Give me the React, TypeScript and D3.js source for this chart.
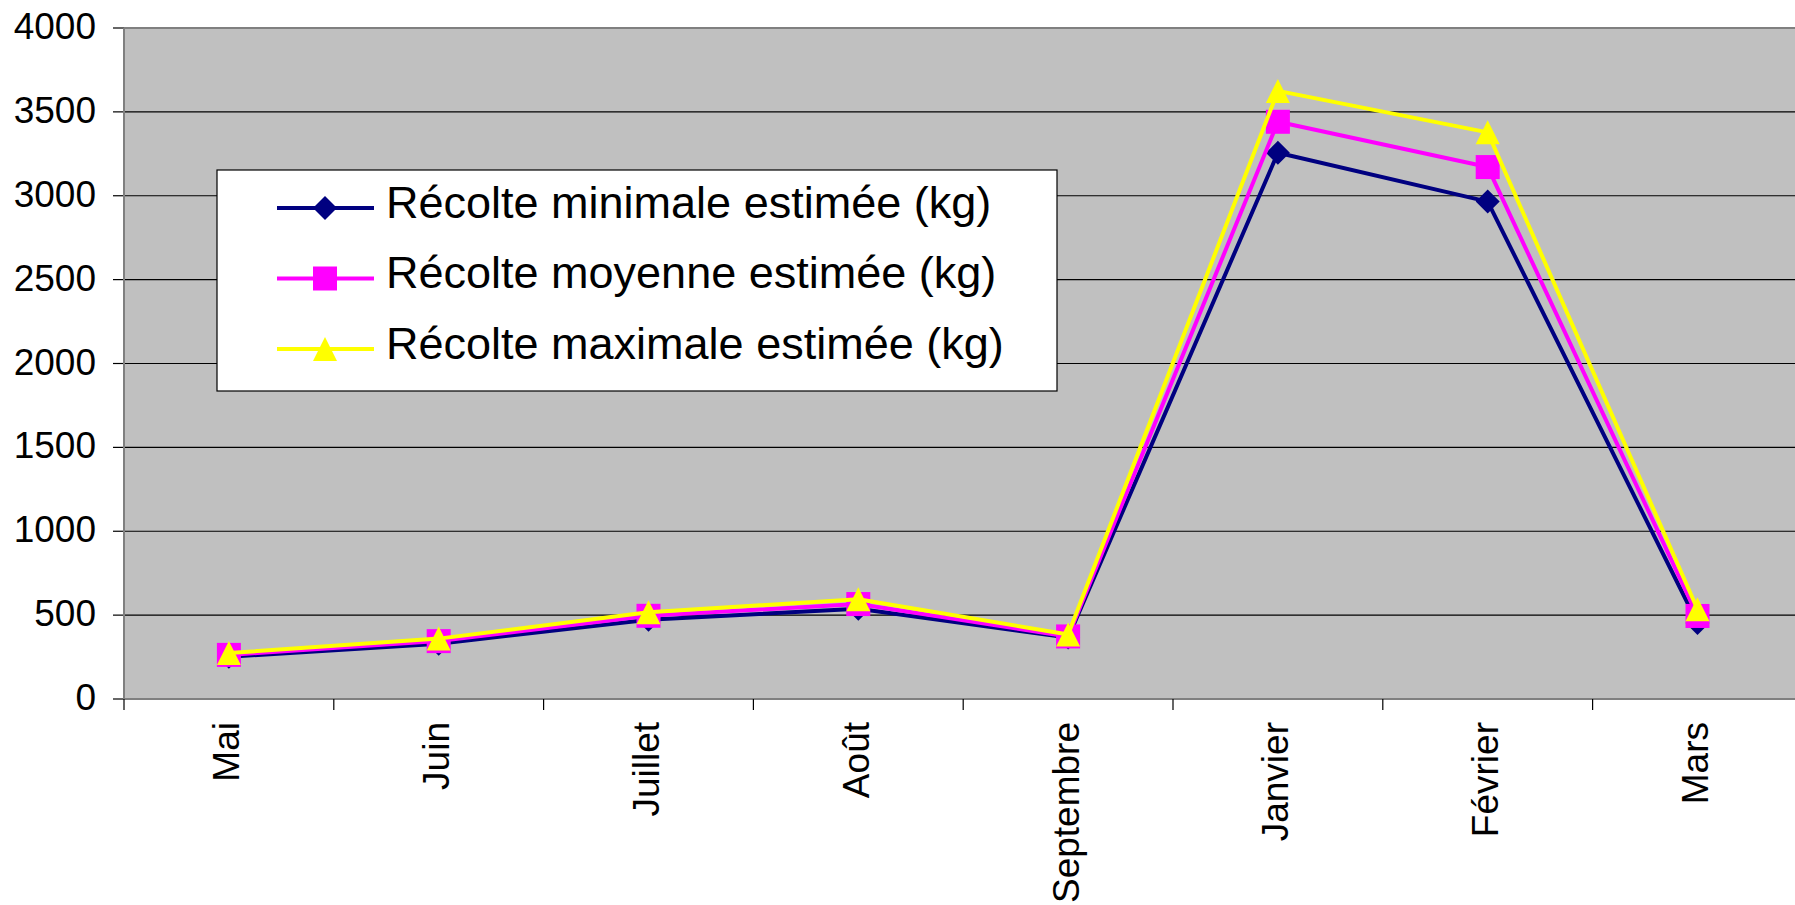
import React from 'react';
import * as d3 from 'd3';

const months = ['Mai', 'Juin', 'Juillet', 'Août', 'Septembre', 'Janvier', 'Février', 'Mars'];
const recolteMin = [252, 330, 473, 538, 366, 3256, 2965, 453];
const recolteMoy = [263, 345, 496, 566, 373, 3441, 3171, 495];
const recolteMax = [274, 360, 517, 595, 385, 3625, 3378, 535];
const yTicks = [0, 500, 1000, 1500, 2000, 2500, 3000, 3500, 4000];
const seriesNames = [
  'Récolte minimale estimée (kg)',
  'Récolte moyenne estimée (kg)',
  'Récolte maximale estimée (kg)',
];

const width = 1795;
const height = 905;
const marginLeft = 124;
const marginTop = 28;
const plotBottom = 699;
const bandW = 209.8;
const font = '"Liberation Sans", Arial, sans-serif';

const series = [
  { name: seriesNames[0], values: recolteMin, color: '#000080', marker: 'diamond' },
  { name: seriesNames[1], values: recolteMoy, color: '#FF00FF', marker: 'square' },
  { name: seriesNames[2], values: recolteMax, color: '#FFFF00', marker: 'triangle' },
];

function Marker({ type, x, y, color }: { type: string; x: number; y: number; color: string }) {
  const r = 12;
  if (type === 'diamond') {
    return <path d={`M${x},${y - r}L${x + r},${y}L${x},${y + r}L${x - r},${y}Z`} fill={color} />;
  }
  if (type === 'square') {
    return <rect x={x - r} y={y - r} width={2 * r} height={2 * r} fill={color} />;
  }
  return <path d={`M${x},${y - r}L${x + r},${y + r}L${x - r},${y + r}Z`} fill={color} />;
}

export default function App() {
  const x = d3
    .scaleBand<string>()
    .domain(months)
    .range([marginLeft, marginLeft + bandW * months.length]);
  const y = d3.scaleLinear().domain([0, 4000]).range([plotBottom, marginTop]);
  const cx = (m: string) => (x(m) as number) + x.bandwidth() / 2;
  const plotRight = marginLeft + bandW * months.length;

  const line = d3
    .line<number>()
    .x((_, i) => cx(months[i]))
    .y((d) => y(d));

  const legendX = 217;
  const legendY = 170;
  const rowY = (i: number) => 208 + i * 70.5;

  return (
    <svg
      width={width}
      height={height}
      style={{ position: 'absolute', left: 0, top: 0, display: 'block', background: '#fff' }}
      fontFamily={font}
    >
      <rect x={marginLeft} y={marginTop} width={plotRight - marginLeft} height={plotBottom - marginTop} fill="#C0C0C0" />

      {yTicks.map((t) => (
        <g key={t}>
          {t > 0 && t < 4000 && (
            <line x1={marginLeft} x2={plotRight} y1={y(t)} y2={y(t)} stroke="#000" strokeWidth={1.2} />
          )}
          <line x1={113} x2={marginLeft} y1={y(t)} y2={y(t)} stroke="#000" strokeWidth={1.2} />
          <text x={96} y={y(t)} dy="0.3em" textAnchor="end" fontSize={37} fill="#000">
            {t}
          </text>
        </g>
      ))}

      <line x1={marginLeft} x2={plotRight} y1={marginTop} y2={marginTop} stroke="#808080" strokeWidth={2} />
      <line x1={marginLeft} x2={marginLeft} y1={marginTop} y2={plotBottom} stroke="#808080" strokeWidth={2} />
      <line x1={marginLeft} x2={plotRight} y1={plotBottom} y2={plotBottom} stroke="#808080" strokeWidth={2} />

      {months.map((m) => (
        <g key={m}>
          <line x1={x(m)} x2={x(m)} y1={plotBottom} y2={710} stroke="#000" strokeWidth={1.2} />
          <text
            transform={`translate(${cx(m) + 10.5},722) rotate(-90)`}
            textAnchor="end"
            fontSize={37}
            fill="#000"
          >
            {m}
          </text>
        </g>
      ))}

      {series.map((s) => (
        <g key={s.name}>
          <path d={line(s.values) || ''} fill="none" stroke={s.color} strokeWidth={4} strokeLinejoin="round" />
          {s.values.map((v, i) => (
            <Marker key={i} type={s.marker} x={cx(months[i])} y={y(v)} color={s.color} />
          ))}
        </g>
      ))}

      <rect x={legendX} y={legendY} width={840} height={221} fill="#fff" stroke="#000" strokeWidth={1.2} />
      {series.map((s, i) => (
        <g key={s.name}>
          <line x1={277} x2={374} y1={rowY(i)} y2={rowY(i)} stroke={s.color} strokeWidth={4} />
          <Marker type={s.marker} x={325} y={rowY(i)} color={s.color} />
          <text x={386} y={rowY(i)} dy="0.22em" fontSize={45} fill="#000">
            {s.name}
          </text>
        </g>
      ))}
    </svg>
  );
}
